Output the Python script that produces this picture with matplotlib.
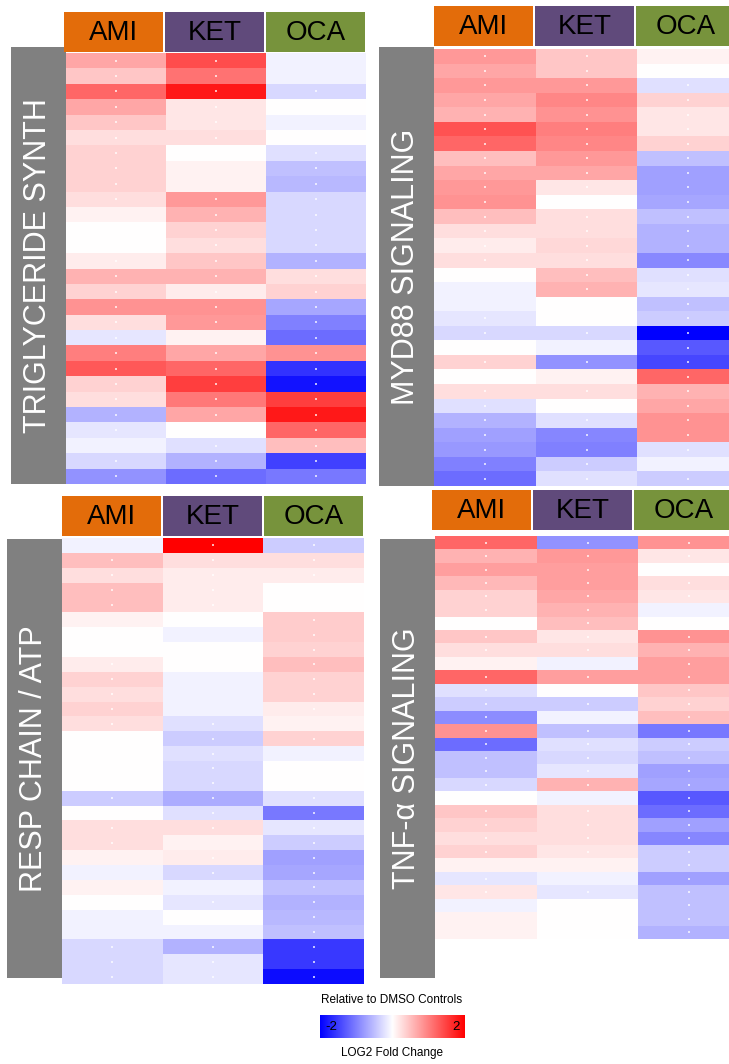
"""Heatmap log2 fold change (AMI / KET / OCA) per quattro pathway."""

import matplotlib.pyplot as plt
import numpy as np
from matplotlib.colors import LinearSegmentedColormap, Normalize
from matplotlib.patches import Rectangle

plt.rcParams["font.family"] = ["Liberation Sans", "DejaVu Sans"]

W, H = 729, 1064

drugs = ["AMI", "KET", "OCA"]
drug_colors = ["#E36C0A", "#604A7B", "#77933C"]

# valori (log2 fold change vs DMSO)
trig_ami = [0.7, 0.45, 1.2, 0.7, 0.45, 0.25, 0.35, 0.35, 0.35, 0.25, 0.1, 0, 0, 0.15,
            0.6, 0.35, 0.85, 0.25, -0.2, 1.0, 1.3, 0.35, 0.25, -0.6, -0.2, -0.1, -0.3, -0.85]
trig_ket = [1.4, 1.1, 1.8, 0.2, 0.2, 0.25, 0, 0.1, 0.1, 0.8, 0.6, 0.35, 0.25, 0.45,
            0.6, 0.15, 0.85, 0.8, 0.1, 0.7, 1.2, 1.5, 1.05, 0.7, 0, -0.25, -0.6, -1.15]
trig_oca = [-0.1, -0.1, -0.3, 0, -0.1, 0, -0.25, -0.5, -0.55, -0.3, -0.3, -0.3, -0.3, -0.6,
            0.25, 0.35, -0.7, -1.0, -1.15, 0.85, -1.6, -1.85, 1.5, 1.8, 1.2, 0.5, -1.5, -1.05]

myd_ami = [0.8, 0.7, 0.8, 0.7, 0.6, 1.35, 1.2, 0.5, 0.7, 0.8, 0.85, 0.5, 0.25, 0.15, 0.25,
           0, -0.1, -0.1, -0.2, -0.3, 0, 0.35, 0, 0.25, -0.25, -0.6, -0.75, -0.8, -1.0, -1.15]
myd_ket = [0.45, 0.45, 0.8, 0.95, 0.85, 1.0, 0.95, 0.8, 0.7, 0.2, 0, 0.25, 0.25, 0.3, 0.25,
           0.5, 0.6, 0, 0, -0.3, -0.1, -0.85, 0.1, 0.25, 0, -0.25, -0.95, -1.0, -0.4, -0.25]
myd_oca = [0.1, 0, -0.25, 0.35, 0.2, 0.2, 0.35, -0.5, -0.75, -0.75, -0.7, -0.5, -0.6, -0.6, -0.93,
           -0.25, -0.2, -0.5, -0.4, -2.0, -1.3, -1.45, 1.2, 0.6, 0.7, 0.85, 0.85, -0.25, -0.1, -0.4]

resp_ami = [-0.1, 0.5, 0.25, 0.5, 0.5, 0.1, 0, 0, 0.15, 0.35, 0.25, 0.35, 0.25, 0, 0,
            0, 0, -0.4, 0, 0.25, 0.25, 0.1, -0.1, 0.1, 0, -0.1, -0.1, -0.3, -0.3, -0.3]
resp_ket = [2.0, 0.25, 0.15, 0.15, 0.15, 0, -0.1, 0, 0, -0.1, -0.1, -0.1, -0.25, -0.4, -0.25,
            -0.3, -0.3, -0.65, -0.25, 0.25, 0.1, 0.15, -0.3, -0.1, -0.2, 0, -0.1, -0.6, -0.2, -0.2]
resp_oca = [-0.4, 0.25, 0.15, 0, 0, 0.4, 0.4, 0.35, 0.5, 0.35, 0.35, 0.15, 0.1, 0.35, -0.1,
            0, 0, -0.25, -1.05, -0.2, -0.4, -0.75, -0.7, -0.5, -0.6, -0.55, -0.5, -1.55, -1.55, -1.9]

tnf_ami = [1.2, 0.6, 0.75, 0.55, 0.35, 0.35, 0, 0.45, 0.25, 0.1, 1.2, -0.25, -0.4, -0.9, 0.85,
           -1.15, -0.5, -0.5, -0.3, 0, 0.45, 0.35, 0.25, 0.35, 0.1, -0.2, 0.2, -0.1, 0.1, 0.1]
tnf_ket = [-0.85, 0.8, 0.75, 0.75, 0.7, 0.6, 0.5, 0.2, 0.25, -0.1, 0.75, 0, -0.4, -0.1, -0.5,
           -0.25, -0.3, -0.2, 0.6, -0.1, 0.25, 0.25, 0.25, 0.2, 0.1, -0.1, -0.2, 0, 0, 0]
tnf_oca = [0.85, 0.2, 0, 0.25, 0.2, -0.1, 0, 0.85, 0.6, 0.75, 0.75, 0.45, 0.35, 0.5, -1.05,
           -0.4, -0.5, -0.75, -0.7, -1.3, -1.15, -0.75, -0.95, -0.4, -0.4, -0.75, -0.5, -0.5, -0.5, -0.6]

titles = ["TRIGLYCERIDE SYNTH", "MYD88 SIGNALING", "RESP CHAIN / ATP", "TNF-α SIGNALING"]

# layout in pixel: heatmap (x0, y0, x1, y1), header (x0, y0, y1), barra grigia
panels = [
    dict(data=(trig_ami, trig_ket, trig_oca), heat=(66, 53, 366, 484),
         head=(64, 12, 52), bar=(11, 47, 66, 484)),
    dict(data=(myd_ami, myd_ket, myd_oca), heat=(434, 49, 739, 486),
         head=(434, 6, 46), bar=(379, 47, 434, 486)),
    dict(data=(resp_ami, resp_ket, resp_oca), heat=(62, 538, 364, 984),
         head=(62, 496, 536), bar=(7, 539, 62, 978)),
    dict(data=(tnf_ami, tnf_ket, tnf_oca), heat=(435, 536, 740, 939),
         head=(432, 490, 530), bar=(380, 539, 435, 978)),
]

cmap = LinearSegmentedColormap.from_list("bwr_lfc", ["#0000FF", "#FFFFFF", "#FF0000"])
norm = Normalize(vmin=-2, vmax=2)


def px_axes(fig, x0, y0, x1, y1):
    return fig.add_axes([x0 / W, 1 - y1 / H, (x1 - x0) / W, (y1 - y0) / H])


fig = plt.figure(figsize=(W / 100, H / 100), dpi=100)

ov = fig.add_axes([0, 0, 1, 1])
ov.set_xlim(0, W)
ov.set_ylim(H, 0)
ov.axis("off")

for title, p in zip(titles, panels):
    # barra laterale con il nome del pathway
    bx0, by0, bx1, by1 = p["bar"]
    ov.add_patch(Rectangle((bx0, by0), bx1 - bx0, by1 - by0, color="#808080", lw=0))
    ov.text((bx0 + bx1) / 2, (by0 + by1) / 2, title, rotation=90, color="white",
            fontsize=22, ha="center", va="center")

    # intestazioni colorate dei farmaci
    hx, hy0, hy1 = p["head"]
    for i, (name, col) in enumerate(zip(drugs, drug_colors)):
        x = hx + i * 101
        ov.add_patch(Rectangle((x, hy0), 99, hy1 - hy0, color=col, lw=0))
        ov.text(x + 49.5, (hy0 + hy1) / 2 + 1, name, fontsize=20, color="black",
                ha="center", va="center")

    vals = np.column_stack(p["data"])
    ax = px_axes(fig, *p["heat"])
    ax.pcolormesh(vals, cmap=cmap, norm=norm)
    rr, cc = np.nonzero(np.abs(vals) >= 0.15)
    ax.scatter(cc + 0.5, rr + 0.5, s=0.8, c="white", marker="s", linewidths=0, alpha=0.7)
    ax.set_xlim(0, 3)
    ax.set_ylim(len(vals), 0)
    ax.axis("off")

# legenda colori
cax = px_axes(fig, 320, 1015, 465, 1038)
grad = np.linspace(-2, 2, 256).reshape(1, -1)
cax.imshow(grad, cmap=cmap, norm=norm, aspect="auto", extent=(-2, 2, 0, 1))
cax.axis("off")
cax.text(-1.85, 0.5, "-2", fontsize=9.5, ha="left", va="center")
cax.text(1.85, 0.5, "2", fontsize=9.5, ha="right", va="center")
ov.text(392, 1000, "Relative to DMSO Controls", fontsize=8.5, ha="center", va="center")
ov.text(392, 1053, "LOG2 Fold Change", fontsize=8.5, ha="center", va="center")

fig.savefig("out.png", dpi=100)
